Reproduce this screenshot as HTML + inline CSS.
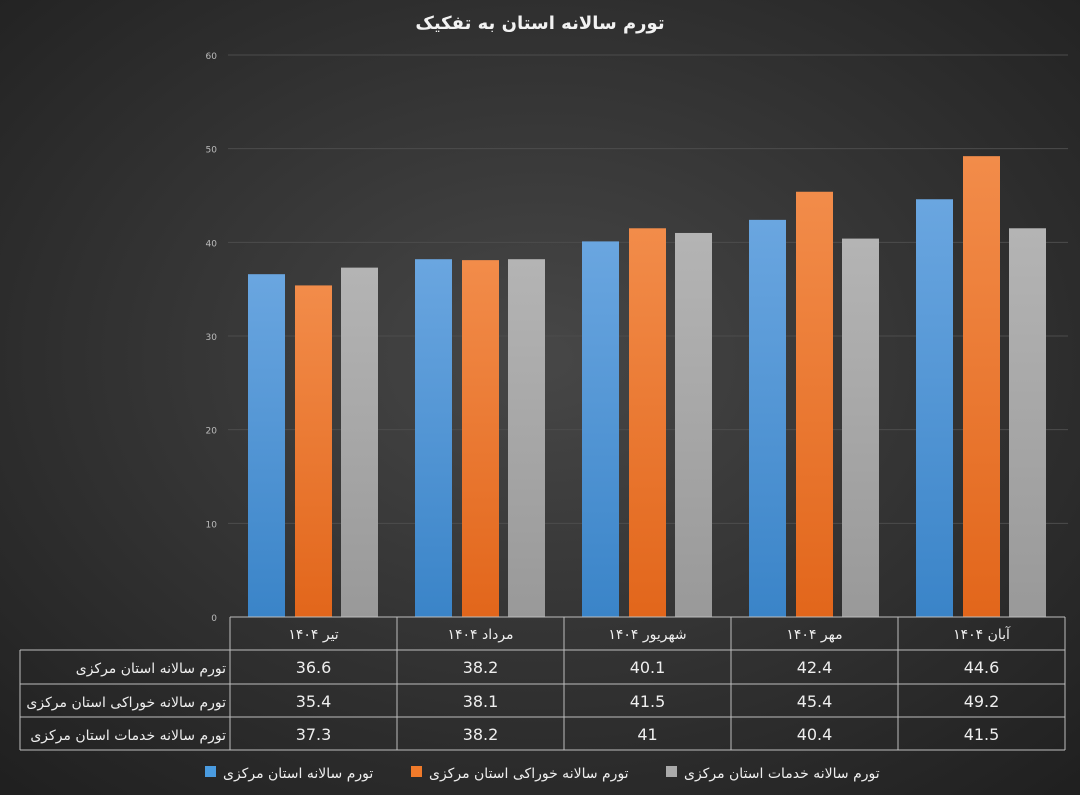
<!DOCTYPE html>
<html><head><meta charset="utf-8"><style>
html,body{margin:0;padding:0;width:1080px;height:795px;overflow:hidden;background:#2a2a2a}
svg{display:block}
text{font-family:"DejaVu Sans","Liberation Sans",sans-serif}
</style></head><body>
<svg id="c" width="1080" height="795" xmlns="http://www.w3.org/2000/svg">
<defs>
<radialGradient id="bg" cx="50%" cy="45%" r="75%"><stop offset="0" stop-color="#474747"/><stop offset="1" stop-color="#1f1f1f"/></radialGradient>
<linearGradient id="gb" x1="0" y1="0" x2="0" y2="1"><stop offset="0" stop-color="#6aa6e0"/><stop offset="1" stop-color="#3a84c8"/></linearGradient>
<linearGradient id="go" x1="0" y1="0" x2="0" y2="1"><stop offset="0" stop-color="#f28c4a"/><stop offset="1" stop-color="#e2661b"/></linearGradient>
<linearGradient id="gg" x1="0" y1="0" x2="0" y2="1"><stop offset="0" stop-color="#b4b4b4"/><stop offset="1" stop-color="#999"/></linearGradient>
</defs>
<rect width="1080" height="795" fill="url(#bg)"/>
<text x="540" y="29" text-anchor="middle" fill="#f2f2f2" font-size="18" font-weight="600">تورم سالانه استان به تفکیک</text>
<g id="grid"></g><g id="bars"></g><g id="table"></g><g id="legend"></g>
</svg>
<script>
const categories=["تیر ۱۴۰۴","مرداد ۱۴۰۴","شهریور ۱۴۰۴","مهر ۱۴۰۴","آبان ۱۴۰۴"];
const seriesNames=["تورم سالانه استان مرکزی","تورم سالانه خوراکی استان مرکزی","تورم سالانه خدمات استان مرکزی"];
const overall=[36.6,38.2,40.1,42.4,44.6];
const food=[35.4,38.1,41.5,45.4,49.2];
const services=[37.3,38.2,41,40.4,41.5];
const yTicks=[0,10,20,30,40,50,60];
const NS="http://www.w3.org/2000/svg";
const x0=230,cw=167,y0=617,y60=55;
const y=v=>y0-(v/60)*(y0-y60);
const xc=i=>x0+i*cw;
function mk(t,a,p){const e=document.createElementNS(NS,t);for(const k in a)e.setAttribute(k,a[k]);p.appendChild(e);return e;}
const G=document.getElementById('grid');
yTicks.forEach(v=>{
 if(v>0){const l=mk('line',{x1:228,x2:1068,y1:y(v),y2:y(v),stroke:'#4c4c4c','stroke-width':1},G);
 
 }
 const t=mk('text',{x:217,y:y(v)+4,'text-anchor':'end',fill:'#bbb','font-size':9},G);t.textContent=v;
 
 
});
const B=document.getElementById('bars');
const series=[overall,food,services],fills=['url(#gb)','url(#go)','url(#gg)'],offs=[18,65,111],bw=37;
series.forEach((s,si)=>s.forEach((v,i)=>{
 const r=mk('rect',{x:xc(i)+offs[si],y:y(v),width:bw,height:y0-y(v),fill:fills[si]},B);
 
 
}));
const T=document.getElementById('table');
const rows=[617,650,684,717,750];
const ln=(a,b,c,d)=>mk('line',{x1:a,y1:b,x2:c,y2:d,stroke:'#bdbdbd','stroke-width':1},T);
ln(x0,617,1065,617);
for(let r=1;r<rows.length;r++)ln(20,rows[r],1065,rows[r]);
ln(20,650,20,750);
for(let i=0;i<=5;i++)ln(xc(i),617,xc(i),750);
categories.forEach((c,i)=>{const t=mk('text',{x:xc(i)+cw/2,y:639,'text-anchor':'middle',fill:'#eee','font-size':14},T);t.textContent=c;
 
 });
series.forEach((s,si)=>{
 const ry=rows[si+1]+23;
 const lb=mk('text',{x:226,y:ry,'text-anchor':'end',fill:'#eee','font-size':14},T);lb.textContent=seriesNames[si];
 
 
 s.forEach((v,i)=>{const t=mk('text',{x:xc(i)+cw/2,y:ry,'text-anchor':'middle',fill:'#eee','font-size':16},T);t.textContent=v;
 
 });
});
const L=document.getElementById('legend');
const lx=[205,411,666],lc=['#4a9be0','#f07a2a','#aaa'];
seriesNames.forEach((n,i)=>{
 const r=mk('rect',{x:lx[i],y:766,width:11,height:11,fill:lc[i]},L);
 
 
 const t=mk('text',{x:lx[i]+18,y:778,fill:'#eee','font-size':14,direction:'rtl','text-anchor':'end'},L);
 t.textContent=n;
 
 
});
</script>
</body></html>
